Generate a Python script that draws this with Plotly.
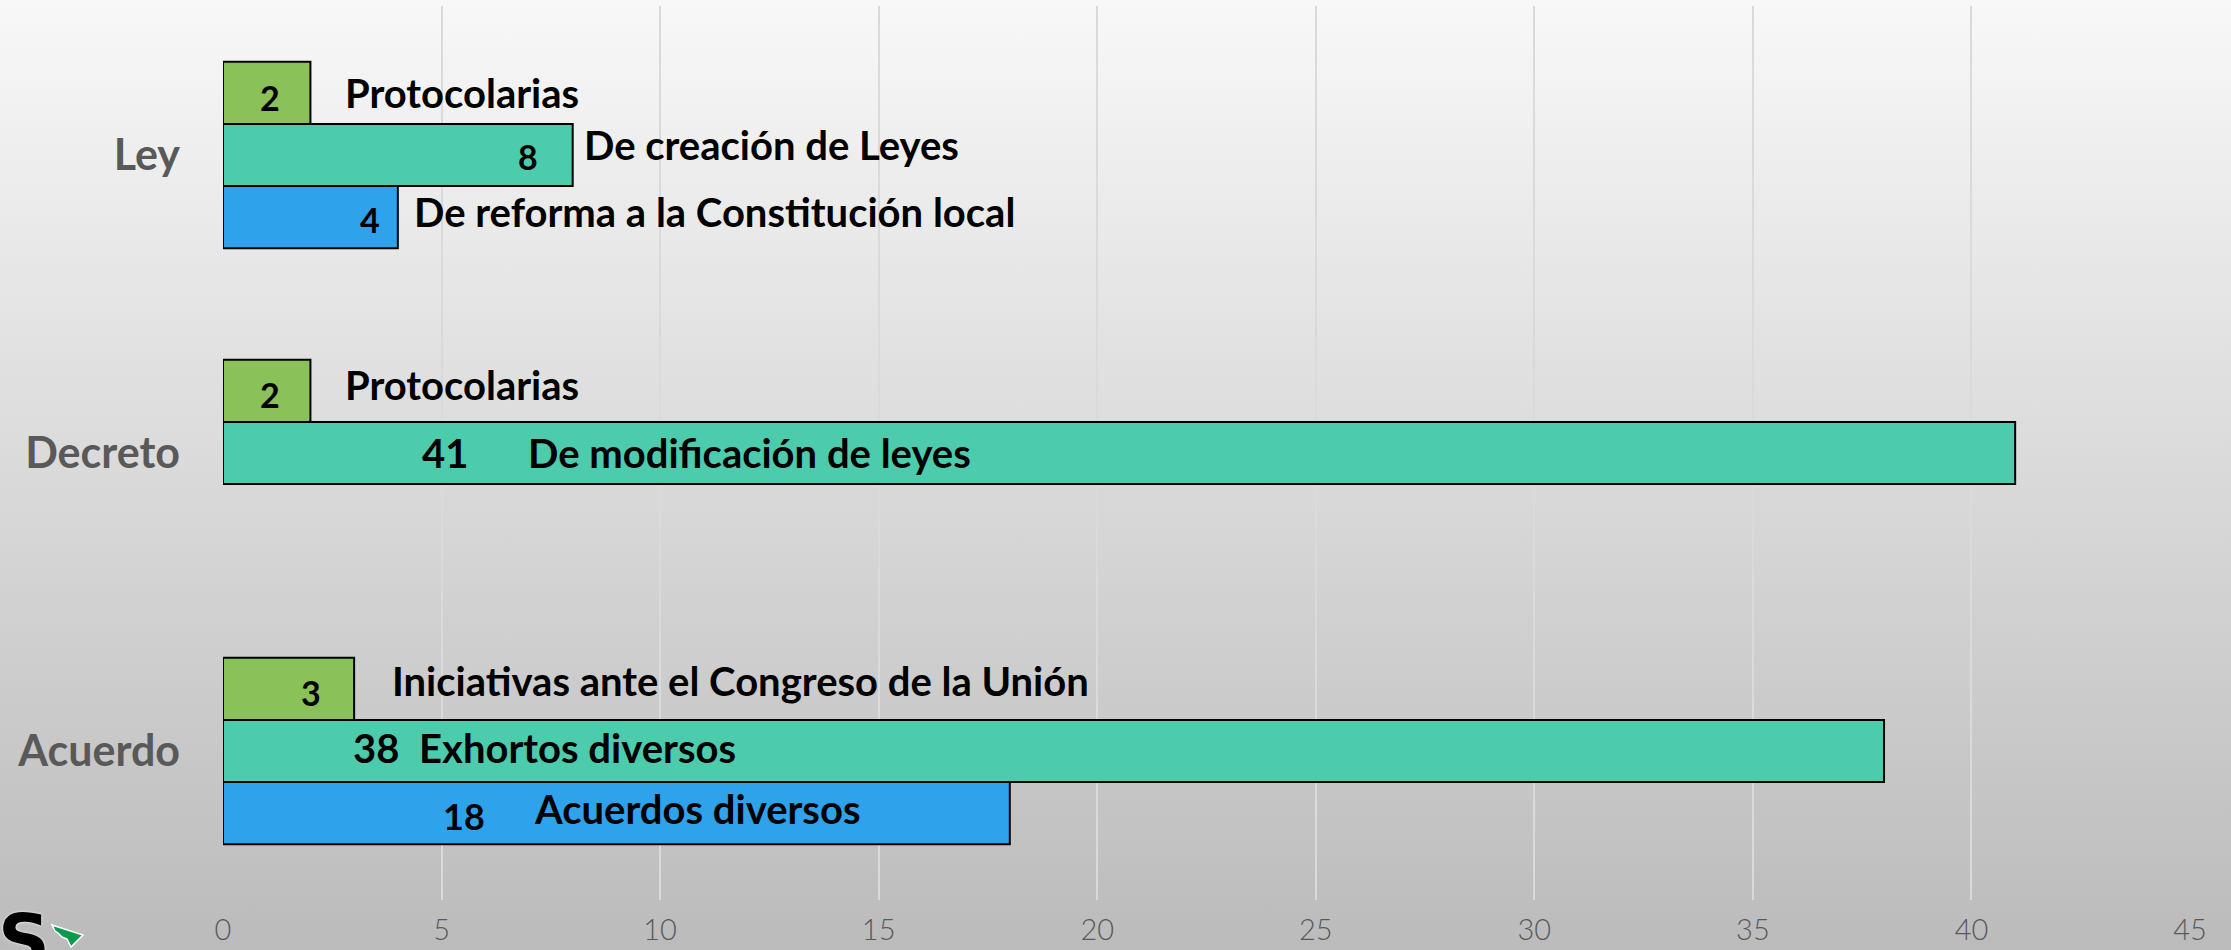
import base64
import plotly.graph_objects as go

# ---- data -------------------------------------------------------------
categorias = ["Ley", "Decreto", "Acuerdo"]

# three bars per category (top → bottom)
valores_verde = [2, 2, 3]
valores_turquesa = [8, 41, 38]
valores_azul = [4, None, 18]

desc_verde = ["Protocolarias", "Protocolarias", "Iniciativas ante el Congreso de la Unión"]
desc_turquesa = ["De creación de Leyes", "De modificación de leyes", "Exhortos diversos"]
desc_azul = ["De reforma a la Constitución local", None, "Acuerdos diversos"]

x_ticks = [0, 5, 10, 15, 20, 25, 30, 35, 40, 45]

# ---- styling / layout ---------------------------------------------------
W, H = 2231, 950
M_L, M_R, M_T, M_B = 223, 41, 6, 50
PW, PH = W - M_L - M_R, H - M_T - M_B

COL_VERDE = "#8AC159"
COL_TURQ = "#4DCBAD"
COL_AZUL = "#2FA2EC"

TXT_FONT = "Lato, Noto Sans, sans-serif"
CAT_FONT = "Lato, Noto Sans, sans-serif"
DESC_SIZE = 40

BAR_GAP = 0.3745
SLOT = (1 - BAR_GAP) / 3  # height of one bar in category units

# label placement per series: number centre x, description left x (data units),
# vertical nudges in px, number font size
series_layout = [
    dict(vals=valores_verde, desc=desc_verde, slot=-1,
         num_x=[1.08, 1.08, 2.02], desc_x=[2.74, 2.74, 3.81],
         num_dy=[-5, -4, -4], desc_dy=[0, 6, 8], num_size=[34, 34, 34]),
    dict(vals=valores_turquesa, desc=desc_turquesa, slot=0,
         num_x=[6.97, 5.08, 3.49], desc_x=[8.21, 6.94, 4.43],
         num_dy=[-1, 0, 3], desc_dy=[10, 0, 3], num_size=[34, 40, 40]),
    dict(vals=valores_azul, desc=desc_azul, slot=1,
         num_x=[3.36, None, 5.51], desc_x=[4.33, None, 7.07],
         num_dy=[-2, 0, -3], desc_dy=[5, 0, 4], num_size=[34, 34, 36]),
]

y_pos = list(range(len(categorias)))

fig = go.Figure()
for vals, col in [(valores_verde, COL_VERDE), (valores_turquesa, COL_TURQ), (valores_azul, COL_AZUL)]:
    fig.add_trace(go.Bar(
        x=vals, y=y_pos, orientation="h",
        marker=dict(color=col, line=dict(color="#000000", width=2)),
        hoverinfo="skip", showlegend=False,
    ))

annotations = []
for s in series_layout:
    for i, v in enumerate(s["vals"]):
        if v is None:
            continue
        yc = y_pos[i] + s["slot"] * SLOT
        annotations.append(dict(
            x=s["num_x"][i], y=yc, xref="x", yref="y", text=str(v),
            showarrow=False, xanchor="center", yanchor="middle",
            yshift=s["num_dy"][i],
            font=dict(family=TXT_FONT, size=s["num_size"][i], color="#000000", weight="bold"),
        ))
        annotations.append(dict(
            x=s["desc_x"][i], y=yc, xref="x", yref="y", text=s["desc"][i],
            showarrow=False, xanchor="left", yanchor="middle",
            yshift=s["desc_dy"][i],
            font=dict(family=TXT_FONT, size=DESC_SIZE, color="#000000", weight="bold"),
        ))


def px_to_paper(px, py):
    return (px - M_L) / PW, (H - M_B - py) / PH


# corner logo: letter and green emblem
lx, ly = px_to_paper(24, 940)
annotations.append(dict(
    x=lx, y=ly, xref="paper", yref="paper", text="S", showarrow=False,
    xanchor="center", yanchor="middle",
    font=dict(family="DejaVu Sans, sans-serif", size=72, color="#000000", weight="bold",
              shadow="0 0 3px #ffffff"),
))
emblem = [(52, 925), (83, 935), (71, 947), (67, 939), (62, 937), (58, 933), (55, 931)]
pts = [px_to_paper(a, b) for a, b in emblem]
path = "M " + " L ".join(f"{a:.5f},{b:.5f}" for a, b in pts) + " Z"

# vertical background gradient as an inline SVG image
svg = (
    '<svg xmlns="http://www.w3.org/2000/svg" width="10" height="100" preserveAspectRatio="none">'
    '<defs><linearGradient id="g" x1="0" y1="0" x2="0" y2="1">'
    '<stop offset="0" stop-color="#f8f8f8"/><stop offset="1" stop-color="#bbbbbb"/>'
    '</linearGradient></defs><rect width="10" height="100" fill="url(#g)"/></svg>'
)
svg_uri = "data:image/svg+xml;base64," + base64.b64encode(svg.encode()).decode()

fig.update_layout(
    width=W, height=H,
    margin=dict(l=M_L, r=M_R, t=M_T, b=M_B, pad=0, autoexpand=False),
    barmode="group", bargap=BAR_GAP, bargroupgap=0,
    paper_bgcolor="#d9d9d9", plot_bgcolor="rgba(0,0,0,0)",
    images=[dict(
        source=svg_uri, xref="paper", yref="paper",
        x=-M_L / PW, y=1 + M_T / PH, sizex=W / PW, sizey=H / PH,
        xanchor="left", yanchor="top", sizing="stretch", layer="below",
    )],
    shapes=[dict(type="path", path=path, xref="paper", yref="paper",
                 fillcolor="#0B9A4B", line=dict(color="#ffffff", width=1.5))],
    annotations=annotations,
    xaxis=dict(
        range=[0, 45], tickvals=x_ticks, ticktext=[str(t) for t in x_ticks],
        showgrid=True, gridcolor="#dadada", gridwidth=2,
        zeroline=False, showline=False, ticks="", automargin=False,
        ticklabelstandoff=10,
        tickfont=dict(family="Lato, sans-serif", size=29, color="#595959", weight=300),
    ),
    yaxis=dict(
        range=[2.5, -0.5], tickvals=y_pos, ticktext=categorias,
        showgrid=False, zeroline=False, showline=False, ticks="", automargin=False,
        ticklabelstandoff=42,
        tickfont=dict(family=CAT_FONT, size=43, color="#595959", weight="bold"),
    ),
)

fig.write_html("out.html")
